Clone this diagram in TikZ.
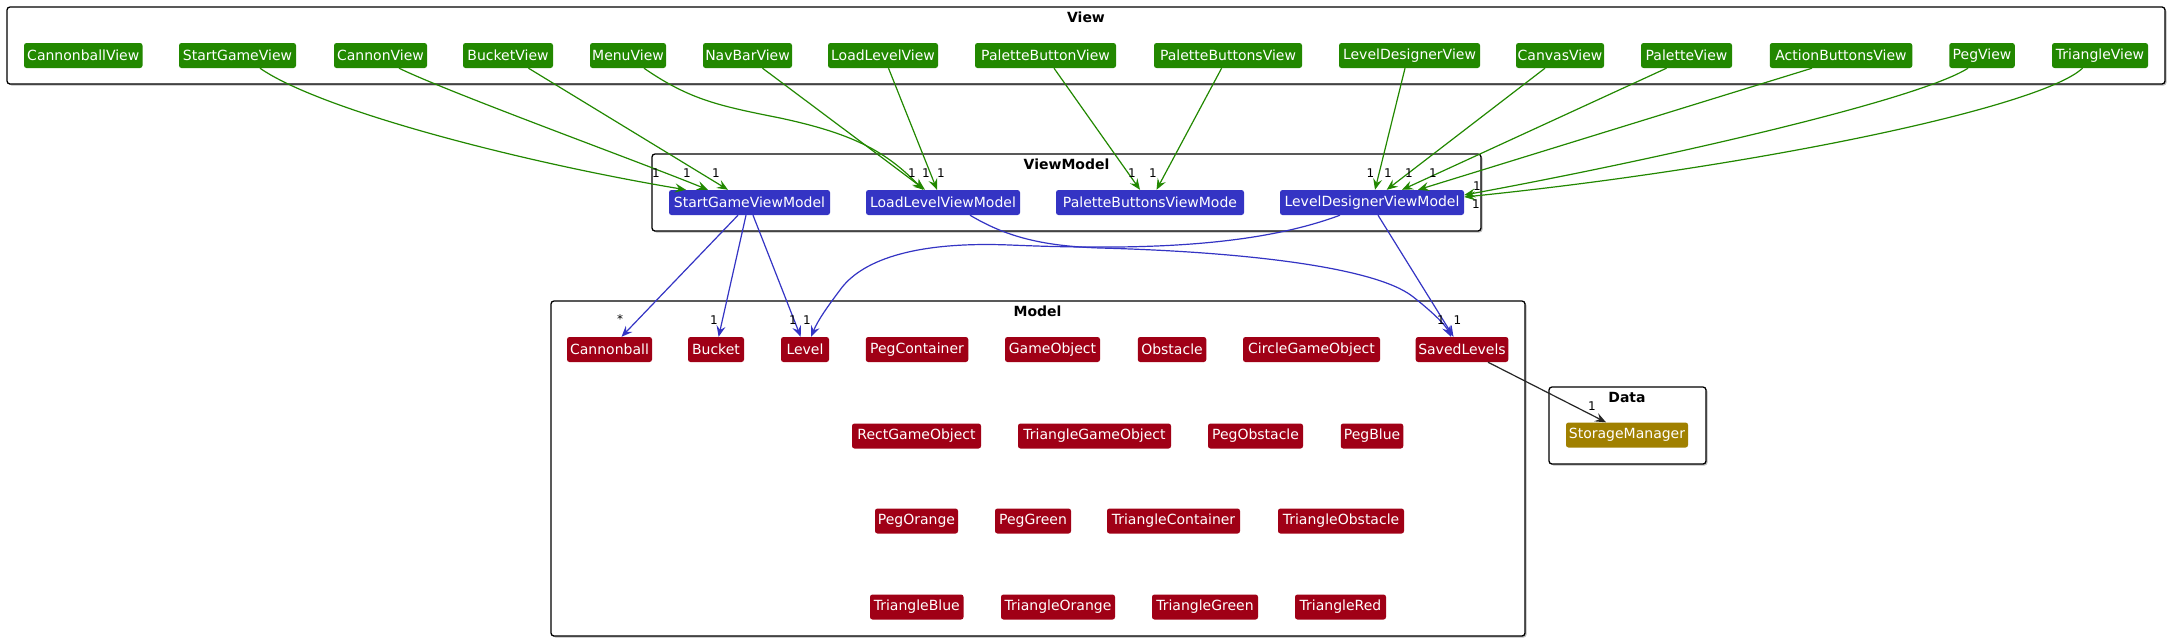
\documentclass[tikz,border=0pt]{standalone}
\usepackage{fontspec}
\setmainfont{DejaVu Sans}
\usetikzlibrary{arrows.meta,shadows}
\definecolor{vgreen}{RGB}{34,136,0}
\definecolor{vblue}{RGB}{52,52,196}
\definecolor{vred}{RGB}{160,0,22}
\definecolor{vgold}{RGB}{160,128,0}
\begin{document}
\begin{tikzpicture}[x=1pt,y=-1pt,
  cls/.style={rounded corners=2.5pt, minimum height=25pt, inner sep=0pt, text=white, font=\fontsize{14}{16}\selectfont},
  vnode/.style={cls, fill=vgreen},
  vmnode/.style={cls, fill=vblue},
  mnode/.style={cls, fill=vred},
  dnode/.style={cls, fill=vgold},
  pkg/.style={draw=black, line width=1.3pt, rounded corners=3pt, inner sep=0pt, fill=white,
    drop shadow={shadow xshift=1.5pt, shadow yshift=-1.5pt, fill=black!45, opacity=0.6}},
  ptitle/.style={font=\bfseries\fontsize{14}{16}\selectfont, inner sep=0pt},
  tip/.style={-{Stealth[length=11pt,width=9pt,inset=4pt]}, line width=1.2pt},
  garrow/.style={tip, draw=vgreen},
  barrow/.style={tip, draw=vblue},
  karrow/.style={tip, draw=black!85},
  mult/.style={font=\fontsize{12}{14}\selectfont, inner sep=0pt}]
\fill[white] (0,0) rectangle (2170,641);
\useasboundingbox (0,0) rectangle (2170,641);

% packages
\node[pkg, minimum width=2158pt, minimum height=77pt] (viewpkg) at (1086,45.5) {};
\node[pkg, minimum width=829pt, minimum height=77pt] (vmpkg) at (1066.5,192.5) {};
\node[pkg, minimum width=974pt, minimum height=335pt] (modelpkg) at (1038,468.5) {};
\node[pkg, minimum width=157pt, minimum height=77pt] (datapkg) at (1627.5,425.5) {};
\node[ptitle] (viewt) at (1086,17) {View};
\node[ptitle] (vmt) at (1066.5,164) {ViewModel};
\node[ptitle] (modelt) at (1037.5,311) {Model};
\node[ptitle] (datat) at (1627,397) {Data};

% View nodes
\node[vnode, minimum width=118.5pt] (cbv) at (83.25,55.5) {CannonballView};
\node[vnode, minimum width=117pt] (sgv) at (237.5,55.5) {StartGameView};
\node[vnode, minimum width=93pt] (cv) at (380.5,55.5) {CannonView};
\node[vnode, minimum width=90pt] (bv) at (508,55.5) {BucketView};
\node[vnode, minimum width=76pt] (mv) at (628,55.5) {MenuView};
\node[vnode, minimum width=89pt] (nbv) at (747.5,55.5) {NavBarView};
\node[vnode, minimum width=110pt] (llv) at (883,55.5) {LoadLevelView};
\node[vnode, minimum width=141pt] (pbv) at (1045.5,55.5) {PaletteButtonView};
\node[vnode, minimum width=148pt] (pbsv) at (1228,55.5) {PaletteButtonsView};
\node[vnode, minimum width=141pt] (ldv) at (1409.5,55.5) {LevelDesignerView};
\node[vnode, minimum width=88pt] (canv) at (1560,55.5) {CanvasView};
\node[vnode, minimum width=91pt] (pv) at (1686.5,55.5) {PaletteView};
\node[vnode, minimum width=142.5pt] (abv) at (1841,55.5) {ActionButtonsView};
\node[vnode, minimum width=65.5pt] (pegv) at (1982,55.5) {PegView};
\node[vnode, minimum width=96pt] (triv) at (2100,55.5) {TriangleView};

% ViewModel nodes
\node[vmnode, minimum width=161pt] (sgvm) at (749.5,202.5) {StartGameViewModel};
\node[vmnode, minimum width=154pt] (llvm) at (943,202.5) {LoadLevelViewModel};
\node[vmnode, minimum width=188pt] (pbvm) at (1150,202.5) {PaletteButtonsViewMode};
\node[vmnode, minimum width=184pt] (ldvm) at (1372,202.5) {LevelDesignerViewModel};

% Model nodes
\node[mnode, minimum width=85pt] (cb) at (609.5,349.5) {Cannonball};
\node[mnode, minimum width=56pt] (bk) at (716,349.5) {Bucket};
\node[mnode, minimum width=48pt] (lv) at (805,349.5) {Level};
\node[mnode, minimum width=102.5pt] (pc) at (917,349.5) {PegContainer};
\node[mnode, minimum width=95pt] (go) at (1052.5,349.5) {GameObject};
\node[mnode, minimum width=68.5pt] (ob) at (1172,349.5) {Obstacle};
\node[mnode, minimum width=137pt] (cgo) at (1311.5,349.5) {CircleGameObject};
\node[mnode, minimum width=92.6pt] (sl) at (1462,349.5) {SavedLevels};

\node[mnode, minimum width=129pt] (rgo) at (916.5,436) {RectGameObject};
\node[mnode, minimum width=153pt] (tgo) at (1094.5,436) {TriangleGameObject};
\node[mnode, minimum width=95pt] (po) at (1255.5,436) {PegObstacle};
\node[mnode, minimum width=62.5pt] (pblue) at (1372,436) {PegBlue};

\node[mnode, minimum width=83pt] (porange) at (916.5,521) {PegOrange};
\node[mnode, minimum width=76pt] (pgreen) at (1033,521) {PegGreen};
\node[mnode, minimum width=133pt] (tc) at (1173.5,521) {TriangleContainer};
\node[mnode, minimum width=126pt] (to) at (1341,521) {TriangleObstacle};

\node[mnode, minimum width=93.5pt] (tblue) at (916.75,607) {TriangleBlue};
\node[mnode, minimum width=114pt] (torange) at (1058,607) {TriangleOrange};
\node[mnode, minimum width=106pt] (tgreen) at (1205,607) {TriangleGreen};
\node[mnode, minimum width=91pt] (tred) at (1340.5,607) {TriangleRed};

% Data
\node[dnode, minimum width=122pt] (sm) at (1627,435) {StorageManager};

% green connectors
\draw[garrow] ([xshift=22.5pt]sgv.south) .. controls (320,110) and (520,162) .. ([xshift=-63.5pt]sgvm.north);
\draw[garrow] ([xshift=18.5pt]cv.south) .. controls (450,93) and (640,162) .. ([xshift=-41.5pt]sgvm.north);
\draw[garrow] ([xshift=20.5pt]bv.south) -- ([xshift=-21.5pt]sgvm.north);
\draw[garrow] ([xshift=16pt]mv.south) .. controls (690,100) and (720,106) .. (780,118) .. controls (850,133) and (885,150) .. ([xshift=-20pt]llvm.north);
\draw[garrow] ([xshift=15pt]nbv.south) -- ([xshift=-18pt]llvm.north);
\draw[garrow] ([xshift=5.5pt]llv.south) -- ([xshift=-6pt]llvm.north);
\draw[garrow] ([xshift=8.5pt]pbv.south) -- ([xshift=-10pt]pbvm.north);
\draw[garrow] ([xshift=-6.4pt]pbsv.south) -- ([xshift=6.5pt]pbvm.north);
\draw[garrow] ([xshift=-4.5pt]ldv.south) -- ([xshift=3pt]ldvm.north);
\draw[garrow] ([xshift=-15pt]canv.south) -- ([xshift=14.7pt]ldvm.north);
\draw[garrow] ([xshift=-20pt]pv.south) -- ([xshift=30pt]ldvm.north);
\draw[garrow] ([xshift=-29pt]abv.south) -- ([xshift=46pt]ldvm.north);
\draw[garrow] ([xshift=-14pt]pegv.south) .. controls (1918,100) and (1665,158) .. ([yshift=7.5pt]ldvm.east);
\draw[garrow] ([xshift=-17.5pt]triv.south) .. controls (2040,108) and (1750,168) .. ([yshift=5.5pt]ldvm.east);

% blue connectors
\draw[barrow] ([xshift=-11.5pt]sgvm.south) -- ([xshift=12pt]cb.north);
\draw[barrow] ([xshift=-3.5pt]sgvm.south) -- ([xshift=2.6pt]bk.north);
\draw[barrow] ([xshift=3.5pt]sgvm.south) -- ([xshift=-4.3pt]lv.north);
\draw[barrow] ([xshift=-32pt]ldvm.south) .. controls (1260,245) and (1150,251) .. (1010,245)
  .. controls (910,241) and (860,262) .. (840,290) .. controls (828,306) and (818,320) .. ([xshift=6pt]lv.north);
\draw[barrow] ([xshift=27pt]llvm.south) .. controls (1005,236) and (1040,246) .. (1100,248)
  .. controls (1250,252) and (1375,268) .. (1412,296) .. controls (1430,310) and (1445,324) .. ([xshift=-11pt]sl.north);
\draw[barrow] ([xshift=6pt]ldvm.south) -- ([xshift=-8.5pt]sl.north);

% black connector
\draw[karrow] ([xshift=26pt]sl.south) -- ([xshift=-21pt]sm.north);

% multiplicities
\node[mult] (m1) at (656,173) {1};
\node[mult] (m2) at (687,173) {1};
\node[mult] (m3) at (716,173) {1};
\node[mult] (m4) at (912,173) {1};
\node[mult] (m5) at (926,173) {1};
\node[mult] (m6) at (941,173) {1};
\node[mult] (m7) at (1132,173) {1};
\node[mult] (m8) at (1153,173) {1};
\node[mult] (m9) at (1370.5,173) {1};
\node[mult] (m10) at (1388,173) {1};
\node[mult] (m11) at (1409,173) {1};
\node[mult] (m12) at (1433,173) {1};
\node[mult] (m13) at (1477,186.5) {1};
\node[mult] (m14) at (1476,204) {1};
\node[mult] (m15) at (620,319) {*};
\node[mult] (m16) at (714,320) {1};
\node[mult] (m17) at (793,320) {1};
\node[mult] (m18) at (807,320) {1};
\node[mult] (m19) at (1441,320) {1};
\node[mult] (m20) at (1457.5,320) {1};
\node[mult] (m21) at (1592,406) {1};
\end{tikzpicture}
\end{document}
